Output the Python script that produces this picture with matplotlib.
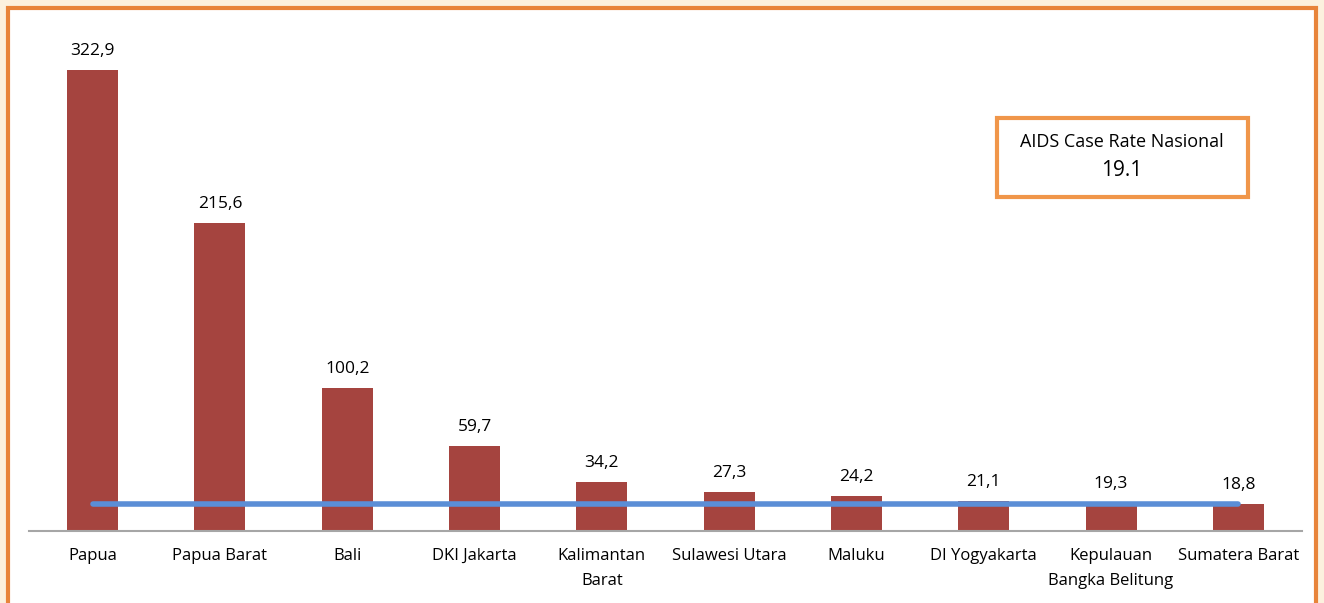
import matplotlib.pyplot as plt
from matplotlib.patches import Rectangle

provinces = ["Papua", "Papua Barat", "Bali", "DKI Jakarta", "Kalimantan\nBarat",
             "Sulawesi Utara", "Maluku", "DI Yogyakarta", "Kepulauan\nBangka Belitung",
             "Sumatera Barat"]
case_rate = [322.9, 215.6, 100.2, 59.7, 34.2, 27.3, 24.2, 21.1, 19.3, 18.8]
national_rate = 19.1

plt.rcParams["font.family"] = ["Open Sans", "DejaVu Sans"]

W, H = 1324, 603
fig = plt.figure(figsize=(W / 100, H / 100), dpi=100)
fig.patch.set_facecolor("#fcf1de")

# orange frame with white inside
fig.patches.append(Rectangle((8 / W, -0.05), (1316 - 8) / W, 1.05 - 8 / H,
                             transform=fig.transFigure, facecolor="white",
                             edgecolor="#e8843a", linewidth=3, zorder=-1))

ax = fig.add_axes([29 / W, 72 / H, (1302 - 29) / W, (572 - 72) / H])
ax.set_facecolor("none")
x = list(range(len(provinces)))
ax.bar(x, case_rate, width=0.4, color="#a5443f", zorder=2)
ax.plot([x[0], x[-1]], [national_rate, national_rate], color="#5b8ed6",
        linewidth=4, solid_capstyle="round", zorder=3)

for xi, v in zip(x, case_rate):
    ax.annotate(f"{v:.1f}".replace(".", ","), (xi, v), xytext=(0, 8),
                textcoords="offset points", ha="center", va="bottom", fontsize=12.5)

ax.set_xlim(-0.5, len(provinces) - 0.5)
ax.set_ylim(0, 350)
ax.set_xticks(x)
ax.set_xticklabels(provinces, fontsize=12, linespacing=1.75, va="top")
ax.tick_params(axis="x", length=0, pad=12)
ax.set_yticks([])
for s in ["top", "left", "right"]:
    ax.spines[s].set_visible(False)
ax.spines["bottom"].set_color("#a6a6a6")
ax.spines["bottom"].set_linewidth(1.5)

# national rate box
fig.patches.append(Rectangle((997 / W, 1 - 197 / H), (1248 - 997) / W, (197 - 118) / H,
                             transform=fig.transFigure, facecolor="white",
                             edgecolor="#f0964a", linewidth=3, zorder=5))
fig.text(1122 / W, 1 - 142 / H, "AIDS Case Rate Nasional", ha="center", va="center",
         fontsize=13, zorder=6)
fig.text(1122 / W, 1 - 171 / H, "19.1", ha="center", va="center", fontsize=15, zorder=6)

fig.savefig("out.png", dpi=100)
